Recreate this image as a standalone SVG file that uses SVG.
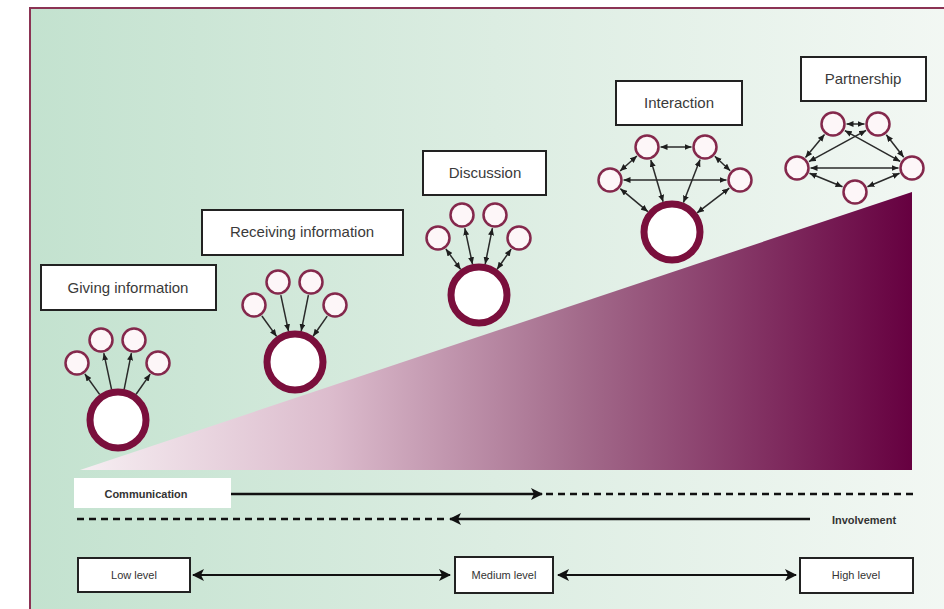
<svg xmlns="http://www.w3.org/2000/svg" width="944" height="609" viewBox="0 0 944 609">
<defs>
<linearGradient id="bg" x1="0" y1="0" x2="1" y2="0">
<stop offset="0" stop-color="#c3e2cf"/>
<stop offset="0.5" stop-color="#dcede2"/>
<stop offset="1" stop-color="#f3f8f4"/>
</linearGradient>
<linearGradient id="tri" gradientUnits="userSpaceOnUse" x1="80" y1="0" x2="912" y2="0">
<stop offset="0" stop-color="#f6eef2"/>
<stop offset="0.3" stop-color="#dcbccd"/>
<stop offset="0.6" stop-color="#a36b8b"/>
<stop offset="1" stop-color="#660040"/>
</linearGradient>
<marker id="a" markerUnits="userSpaceOnUse" markerWidth="7" markerHeight="6" refX="7" refY="3" orient="auto-start-reverse">
<path d="M0,0 L7,3 L0,6 z" fill="#1e1e1e"/>
</marker>
<marker id="A" markerUnits="userSpaceOnUse" markerWidth="12" markerHeight="12" refX="11" refY="6" orient="auto-start-reverse">
<path d="M0,0 L12,6 L0,12 L3,6 z" fill="#111"/>
</marker>
</defs>
<style>
.box{fill:#fff;stroke:#222;stroke-width:2}
.lbl{font-family:"Liberation Sans",Arial,sans-serif;font-size:15px;fill:#3a3a3a;text-anchor:middle;dominant-baseline:central}
.sm{font-family:"Liberation Sans",Arial,sans-serif;font-size:11px;fill:#333;text-anchor:middle;dominant-baseline:central}
.b{font-weight:bold}
.big{fill:#fff;stroke:#7a0f3c;stroke-width:7}
.s{fill:#fdf6f8;stroke:#84284c;stroke-width:2.5}
.c line{stroke:#2a2a2a;stroke-width:1.5}
.one{marker-end:url(#a)}
.two{marker-start:url(#a);marker-end:url(#a)}
.c line.ln{stroke:#111;stroke-width:2.5;fill:none}
.c line.lv{stroke-width:2;marker-start:url(#A);marker-end:url(#A)}
.c line.dash{stroke-dasharray:7 5}
</style>

<rect x="30" y="8" width="930" height="620" fill="url(#bg)" stroke="#8b3354" stroke-width="2"/>
<polygon points="80,470 912,192 912,470" fill="url(#tri)"/>

<!-- Giving information -->
<g id="giving">
<rect class="box" x="41" y="265" width="175" height="45"/>
<text class="lbl" x="128" y="287">Giving information</text>
<circle class="big" cx="118" cy="420" r="28"/>
<circle class="s" cx="77" cy="363" r="11.5"/>
<circle class="s" cx="101" cy="340" r="11.5"/>
<circle class="s" cx="134" cy="340" r="11.5"/>
<circle class="s" cx="158" cy="363" r="11.5"/>
</g>
<!-- Receiving information -->
<g id="receiving">
<rect class="box" x="202" y="210" width="201" height="45"/>
<text class="lbl" x="302" y="231">Receiving information</text>
<circle class="big" cx="295" cy="362" r="28"/>
<circle class="s" cx="254" cy="305" r="11.5"/>
<circle class="s" cx="278" cy="282" r="11.5"/>
<circle class="s" cx="311" cy="282" r="11.5"/>
<circle class="s" cx="335" cy="305" r="11.5"/>
</g>
<!-- Discussion -->
<g id="discussion">
<rect class="box" x="423" y="151" width="123" height="44"/>
<text class="lbl" x="485" y="172">Discussion</text>
<circle class="big" cx="479" cy="295" r="28"/>
<circle class="s" cx="438" cy="238" r="11.5"/>
<circle class="s" cx="462" cy="215" r="11.5"/>
<circle class="s" cx="495" cy="215" r="11.5"/>
<circle class="s" cx="519" cy="238" r="11.5"/>
</g>
<!-- Interaction -->
<g id="interaction">
<rect class="box" x="616" y="81" width="126" height="44"/>
<text class="lbl" x="679" y="102">Interaction</text>
<circle class="big" cx="672" cy="232" r="28"/>
<circle class="s" cx="610" cy="180" r="11.5"/>
<circle class="s" cx="647" cy="147" r="11.5"/>
<circle class="s" cx="705" cy="147" r="11.5"/>
<circle class="s" cx="740" cy="180" r="11.5"/>
</g>
<!-- Partnership -->
<g id="partnership">
<rect class="box" x="801" y="57" width="125" height="44"/>
<text class="lbl" x="863" y="78">Partnership</text>
<circle class="s" cx="833" cy="124" r="11.5"/>
<circle class="s" cx="878" cy="124" r="11.5"/>
<circle class="s" cx="797" cy="168" r="11.5"/>
<circle class="s" cx="912" cy="168" r="11.5"/>
<circle class="s" cx="855" cy="192" r="11.5"/>
</g>

<g id="connectors" class="c">
<!-- giving: out -->
<line class="one" x1="99.6" y1="394.4" x2="84.9" y2="374"/>
<line class="one" x1="111.5" y1="389.2" x2="103.8" y2="353.2"/>
<line class="one" x1="124.2" y1="389.1" x2="131.4" y2="353.2"/>
<line class="one" x1="136.1" y1="394.2" x2="150.2" y2="374.1"/>
<!-- receiving: in -->
<line class="one" x2="276.6" y2="336.4" x1="261.9" y1="316"/>
<line class="one" x2="288.5" y2="331.2" x1="280.8" y1="295.2"/>
<line class="one" x2="301.2" y2="331.1" x1="308.4" y1="295.2"/>
<line class="one" x2="313.1" y2="336.2" x1="327.2" y1="316.1"/>
<!-- discussion: both -->
<line class="two" x1="460.6" y1="269.4" x2="445.9" y2="249"/>
<line class="two" x1="472.5" y1="264.2" x2="464.8" y2="228.2"/>
<line class="two" x1="485.2" y1="264.1" x2="492.4" y2="228.2"/>
<line class="two" x1="497.1" y1="269.2" x2="511.2" y2="249.1"/>
<!-- interaction -->
<line class="two" x1="660.5" y1="147" x2="691.5" y2="147"/>
<line class="two" x1="623.5" y1="180" x2="726.5" y2="180"/>
<line class="two" x1="620.1" y1="171" x2="636.9" y2="156"/>
<line class="two" x1="730.2" y1="170.7" x2="714.8" y2="156.3"/>
<line class="two" x1="647.9" y1="211.7" x2="620.3" y2="188.7"/>
<line class="two" x1="663.1" y1="201.8" x2="650.8" y2="160"/>
<line class="two" x1="683.4" y1="202.6" x2="700.1" y2="159.6"/>
<line class="two" x1="697" y1="212.9" x2="729.3" y2="188.2"/>
<!-- partnership -->
<line class="two" x1="846.5" y1="124" x2="864.5" y2="124"/>
<line class="two" x1="824.5" y1="134.4" x2="805.5" y2="157.6"/>
<line class="two" x1="886.3" y1="134.7" x2="903.7" y2="157.3"/>
<line class="two" x1="844.8" y1="130.6" x2="900.2" y2="161.4"/>
<line class="two" x1="866.1" y1="130.4" x2="808.9" y2="161.6"/>
<line class="two" x1="810.5" y1="168" x2="898.5" y2="168"/>
<line class="two" x1="809.5" y1="173.2" x2="842.5" y2="186.8"/>
<line class="two" x1="867.4" y1="186.8" x2="899.6" y2="173.2"/>
<!-- communication / involvement -->
<line class="ln" x1="231" y1="494" x2="542" y2="494" style="marker-end:url(#A)"/>
<line class="ln dash" x1="546" y1="494" x2="915" y2="494"/>
<line class="ln dash" x1="77" y1="519" x2="448" y2="519"/>
<line class="ln" x1="810" y1="519" x2="450" y2="519" style="marker-end:url(#A)"/>
<!-- levels -->
<line class="ln lv" x1="193" y1="575" x2="450" y2="575"/>
<line class="ln lv" x1="558" y1="575" x2="796" y2="575"/>
</g>

<g id="communication">
<rect x="74" y="478" width="157" height="30" fill="#fff"/>
<text class="sm b" x="146" y="494">Communication</text>
</g>
<g id="involvement">
<text class="sm b" x="864" y="520">Involvement</text>
</g>
<g id="low">
<rect class="box" x="78" y="558" width="112" height="34"/>
<text class="sm" x="134" y="575">Low level</text>
</g>
<g id="medium">
<rect class="box" x="455" y="557" width="98" height="36"/>
<text class="sm" x="504" y="575">Medium level</text>
</g>
<g id="high">
<rect class="box" x="800" y="558" width="113" height="35"/>
<text class="sm" x="856" y="575">High level</text>
</g>
</svg>
